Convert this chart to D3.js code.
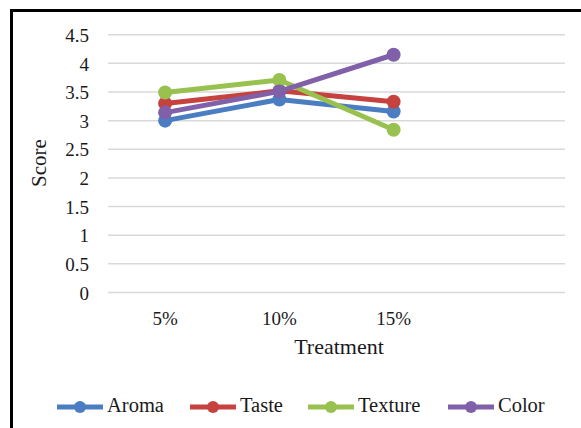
<!DOCTYPE html>
<html>
<head>
<meta charset="utf-8">
<script src="https://cdn.jsdelivr.net/npm/d3@7/dist/d3.min.js"></script>
<style>
  html, body { margin: 0; padding: 0; background: #fff; }
  svg { display: block; }
</style>
</head>
<body>
<svg id="chart" width="581" height="428"></svg>
<script>
// Treatment levels (the last slot is an empty category on the axis)
const categories = ["5%", "10%", "15%", ""];
const treatments = ["5%", "10%", "15%"];

// Sensory scores per attribute
const aroma   = [3.00, 3.37, 3.16];
const taste   = [3.30, 3.52, 3.33];
const texture = [3.49, 3.71, 2.84];
const color   = [3.14, 3.51, 4.15];

const seriesNames  = ["Aroma", "Taste", "Texture", "Color"];
const seriesColors = ["#4A7DC1", "#C6423E", "#98C150", "#8060A8"];
const yTicks = [0, 0.5, 1, 1.5, 2, 2.5, 3, 3.5, 4, 4.5];

const FONT = "'Liberation Serif', 'Times New Roman', serif";
const INK = "#1a1a1a";

const series = [aroma, taste, texture, color].map((vals, i) => ({
  name: seriesNames[i],
  color: seriesColors[i],
  values: vals.map((v, j) => ({ cat: treatments[j], v }))
}));

const svg = d3.select("#chart");

// Outer frame of the chart area
svg.append("path")
  .attr("d", "M11.5,440 L11.5,10.5 L600,10.5")
  .attr("fill", "none").attr("stroke", "#000").attr("stroke-width", 3);

const plot = { left: 108, right: 565, top: 34.7, bottom: 292.5 };

const x = d3.scaleBand().domain(categories).range([plot.left, plot.right]);
const y = d3.scaleLinear().domain([0, 4.5]).range([plot.bottom, plot.top]);

// Horizontal gridlines
svg.append("g").selectAll("line").data(yTicks).join("line")
  .attr("x1", plot.left).attr("x2", plot.right)
  .attr("y1", d => y(d)).attr("y2", d => y(d))
  .attr("stroke", "#d9d9d9").attr("stroke-width", 1.5);

// Y axis labels
const yAxis = d3.axisLeft(y).tickValues(yTicks).tickSize(0).tickPadding(0)
  .tickFormat(d3.format(""));
svg.append("g").attr("transform", "translate(89,0)").call(yAxis)
  .attr("font-family", FONT).attr("font-size", 19)
  .call(g => g.select(".domain").remove())
  .selectAll("text")
  .attr("dy", "0.35em").attr("fill", INK);

// X axis labels
const xAxis = d3.axisBottom(x).tickSize(0).tickPadding(0);
svg.append("g").attr("transform", "translate(0,318)").call(xAxis)
  .attr("font-family", FONT).attr("font-size", 19)
  .call(g => g.select(".domain").remove())
  .selectAll("text")
  .attr("dy", "0.35em").attr("y", 0).attr("fill", INK);

// Axis titles
svg.append("text").attr("x", 339).attr("y", 349)
  .attr("text-anchor", "middle").attr("dominant-baseline", "middle")
  .attr("font-family", FONT).attr("font-size", 22).attr("fill", INK)
  .text("Treatment");
svg.append("text")
  .attr("transform", "translate(41,163) rotate(-90)")
  .attr("text-anchor", "middle").attr("dominant-baseline", "middle")
  .attr("font-family", FONT).attr("font-size", 21).attr("fill", INK)
  .text("Score");

// Lines and markers
const cx = d => x(d.cat) + x.bandwidth() / 2;
const line = d3.line().x(cx).y(d => y(d.v));

const g = svg.append("g");
series.forEach(s => {
  const sg = g.append("g");
  sg.append("path").datum(s.values)
    .attr("d", line).attr("fill", "none")
    .attr("stroke", s.color).attr("stroke-width", 5)
    .attr("stroke-linejoin", "round").attr("stroke-linecap", "round");
  sg.selectAll("circle").data(s.values).join("circle")
    .attr("cx", cx).attr("cy", d => y(d.v)).attr("r", 7)
    .attr("fill", s.color);
});

// Legend
const legendX = [57, 190, 308, 448];
const legendY = 407;
const lg = svg.append("g");
series.forEach((s, i) => {
  const x0 = legendX[i];
  lg.append("line").attr("x1", x0).attr("x2", x0 + 46)
    .attr("y1", legendY).attr("y2", legendY)
    .attr("stroke", s.color).attr("stroke-width", 5);
  lg.append("circle").attr("cx", x0 + 23).attr("cy", legendY).attr("r", 6)
    .attr("fill", s.color);
  lg.append("text").attr("x", x0 + 50).attr("y", legendY)
    .attr("dominant-baseline", "middle")
    .attr("font-family", FONT).attr("font-size", 20.5).attr("fill", INK)
    .text(s.name);
});
</script>
</body>
</html>
